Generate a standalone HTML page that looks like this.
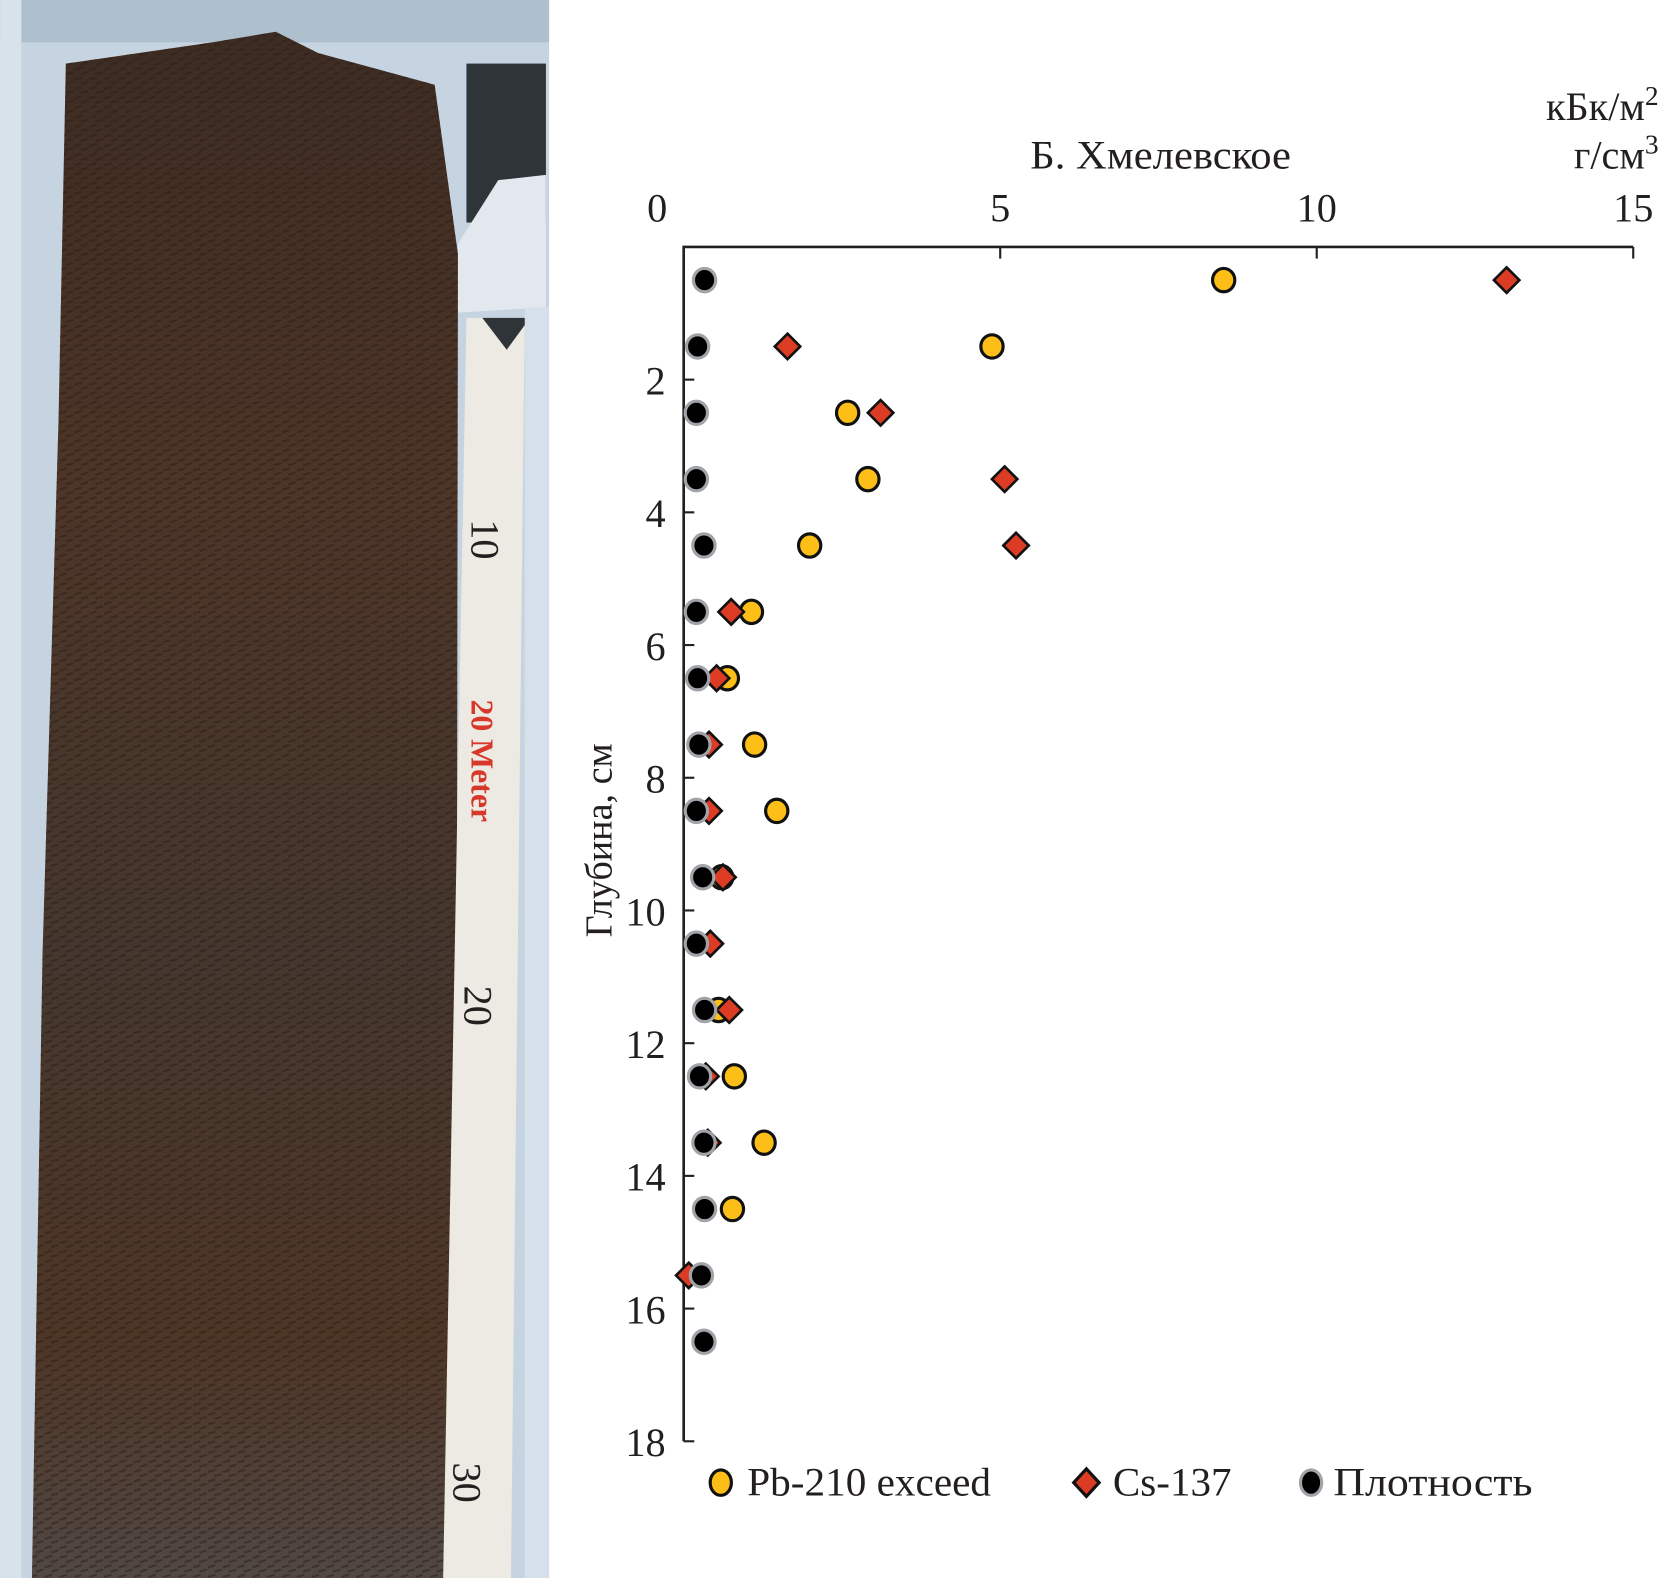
<!DOCTYPE html>
<html><head><meta charset="utf-8"><style>
html,body{margin:0;padding:0;background:#fff}
svg{display:block}
text{font-family:"Liberation Serif",serif;fill:#231f20}
</style></head><body>
<svg width="1662" height="1578" viewBox="0 0 1568 1489">
<defs>
<linearGradient id="core" x1="0" y1="0" x2="0" y2="1">
<stop offset="0" stop-color="#3d2c23"/><stop offset="0.3" stop-color="#4d3527"/><stop offset="0.6" stop-color="#45372e"/><stop offset="0.85" stop-color="#4e3626"/><stop offset="1" stop-color="#514844"/>
</linearGradient>
<pattern id="tex" width="14" height="9" patternUnits="userSpaceOnUse"><path d="M0 3 L7 1 M6 7 L13 5" stroke="#2a1d18" stroke-width="2" opacity="0.5"/></pattern>
</defs>
<g>
<rect x="0" y="0" width="518" height="1489" fill="#c5d4e0"/>
<rect x="0" y="0" width="518" height="40" fill="#aebfcd"/>
<rect x="0" y="0" width="20" height="1489" fill="#d8e2ea"/>
<path d="M62 60 L200 40 L260 30 L300 50 L410 80 L432 240 L430 1489 L30 1489 L40 900 L55 400 Z" fill="url(#core)"/>
<path d="M62 60 L200 40 L260 30 L300 50 L410 80 L432 240 L430 1489 L30 1489 L40 900 L55 400 Z" fill="url(#tex)"/>
<rect x="440" y="60" width="75" height="150" fill="#2e3438"/>
<path d="M432 230 L470 170 L515 165 L515 290 L432 295 Z" fill="#e2e8ee"/>
<path d="M440 300 L495 300 L482 1489 L418 1489 Z" fill="#eceae2"/>
<path d="M455 300 L500 300 L478 330 Z" fill="#2e3438"/>
<text x="0" y="0" transform="translate(445,660) rotate(90)" font-size="30" style="fill:#d8382a" font-weight="bold">20 Meter</text>
<text x="0" y="0" transform="translate(445,490) rotate(90)" font-size="38">10</text>
<text x="0" y="0" transform="translate(438,930) rotate(90)" font-size="38">20</text>
<text x="0" y="0" transform="translate(428,1380) rotate(90)" font-size="38">30</text>
<rect x="495" y="290" width="23" height="1199" fill="#d6e0ea"/>
</g>
<g id="chart"></g>
<text x="1095" y="159" font-size="38" text-anchor="middle" textLength="246" lengthAdjust="spacingAndGlyphs">Б. Хмелевское</text>
<text x="1565" y="113" font-size="38" text-anchor="end">кБк/м<tspan dy="-14" font-size="26">2</tspan></text>
<text x="1565" y="159" font-size="38" text-anchor="end">г/см<tspan dy="-14" font-size="26">3</tspan></text>
<text x="0" y="0" transform="translate(577,793) rotate(-90)" font-size="36" text-anchor="middle">Глубина, см</text>
<g>
<g>
<ellipse cx="680" cy="1399" rx="10" ry="12" fill="#fdbf17" stroke="#111" stroke-width="3"/>
<text x="705" y="1411" font-size="38" textLength="230" lengthAdjust="spacingAndGlyphs">Pb-210 exceed</text></g>
<g>
<path d="M1025 1386 L1037 1399 L1025 1412 L1013 1399 Z" fill="#dc3b24" stroke="#111" stroke-width="3"/>
<text x="1050" y="1411" font-size="38" textLength="112" lengthAdjust="spacingAndGlyphs">Cs-137</text></g>
<g>
<ellipse cx="1237" cy="1399" rx="10" ry="12" fill="#000" stroke="#a0a4a8" stroke-width="3"/>
<text x="1258" y="1411" font-size="38" textLength="188" lengthAdjust="spacingAndGlyphs">Плотность</text></g>
</g>
<script>
const depths=[0.5,1.5,2.5,3.5,4.5,5.5,6.5,7.5,8.5,9.5,10.5,11.5,12.5,13.5,14.5,15.5,16.5];
const pb210=[8.53,4.87,2.59,2.91,1.99,1.07,0.69,1.12,1.47,0.6,null,0.55,0.8,1.27,0.77,null,null];
const cs137=[13.0,1.64,3.11,5.07,5.25,0.75,0.52,0.4,0.4,0.62,0.42,0.72,0.35,0.38,null,0.08,null];
const density=[0.33,0.22,0.2,0.2,0.32,0.2,0.22,0.24,0.2,0.3,0.2,0.33,0.25,0.32,0.33,0.28,0.32];
const xTicks=[0,5,10,15];
const yTicks=[2,4,6,8,10,12,14,16,18];
const NS='http://www.w3.org/2000/svg';
const g=document.getElementById('chart');
const X0=645,X1=1541,Y0=233,Y1=1360;
const xs=v=>X0+(v/15)*(X1-X0);
const ys=v=>Y0+(v/18)*(Y1-Y0);
function mk(t,a){const e=document.createElementNS(NS,t);for(const k in a)e.setAttribute(k,a[k]);g.appendChild(e);return e;}
let e=mk('path',{d:`M${X0} ${Y1} L${X0} ${ys(0)} L${X1} ${ys(0)}`,fill:'none',stroke:'#231f20','stroke-width':2.5});


xTicks.forEach(t=>{
 if(t>0){const l=mk('line',{x1:xs(t),x2:xs(t),y1:ys(0),y2:ys(0)+11,stroke:'#231f20','stroke-width':2});
 
 }
 const tx=mk('text',{x:xs(t)-(t===0?25:0),y:209,'font-size':38,'text-anchor':'middle'});tx.textContent=t;
 
 
});
yTicks.forEach(t=>{
 const l=mk('line',{x1:X0,x2:X0+10,y1:ys(t),y2:ys(t),stroke:'#231f20','stroke-width':2});
 
 
 const tx=mk('text',{x:628,y:ys(t)+14,'font-size':38,'text-anchor':'end'});tx.textContent=t;
 
 
});
depths.forEach((d,i)=>{
 if(pb210[i]!=null){const c=mk('ellipse',{cx:xs(pb210[i]),cy:ys(d),rx:10.5,ry:11,fill:'#fdbf17',stroke:'#111','stroke-width':3});
 
 }
});
depths.forEach((d,i)=>{
 if(cs137[i]!=null){const x=xs(cs137[i]),y=ys(d);const p=mk('path',{d:`M${x} ${y-12} L${x+12} ${y} L${x} ${y+12} L${x-12} ${y} Z`,fill:'#dc3b24',stroke:'#111','stroke-width':2.5});
 
 }
});
depths.forEach((d,i)=>{
 const c=mk('ellipse',{cx:xs(density[i]),cy:ys(d),rx:10.5,ry:11,fill:'#000',stroke:'#a0a4a8','stroke-width':3});
 
 
});
</script>
</svg>
</body></html>
